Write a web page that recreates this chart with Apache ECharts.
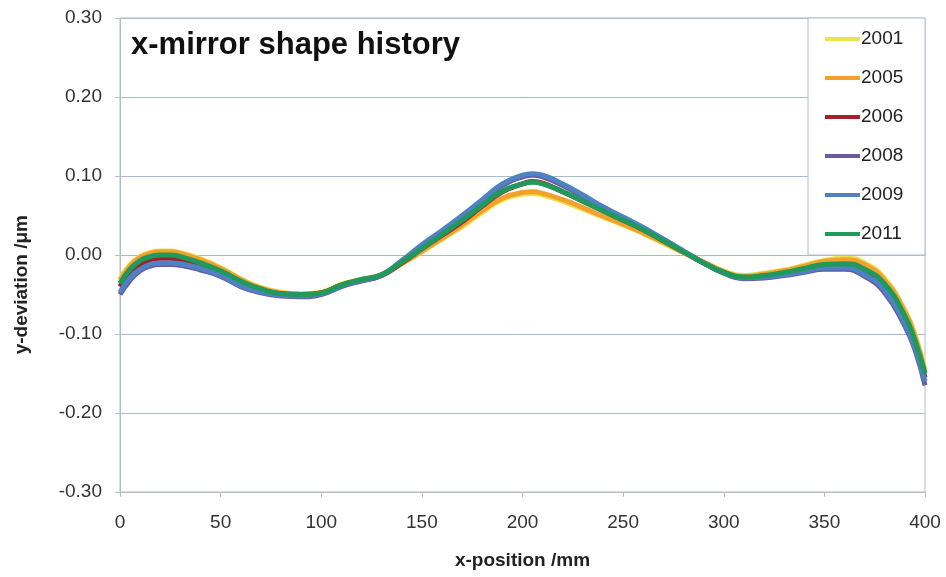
<!DOCTYPE html>
<html><head><meta charset="utf-8">
<script src="https://cdn.jsdelivr.net/npm/echarts@6/dist/echarts.min.js"></script>
<style>html,body{margin:0;padding:0;background:#fff}#c{width:946px;height:577px}</style>
</head><body><div id="c"></div>
<script>
const xPos = [0,5,10,15,20,25,30,40,50,60,70,80,90,100,110,120,130,140,150,160,170,180,190,200,205,210,220,230,240,250,260,270,280,290,300,310,320,330,340,350,360,370,380,390,395,400];
const years = ['2001','2005','2006','2008','2009','2011'];
const colors = ['#ede34a','#f2a12e','#a3202a','#6a5a9e','#4f82c2','#1f9a5c'];
const y2001 = [-0.030,-0.012,-0.002,0.003,0.005,0.005,0.003,-0.005,-0.016,-0.030,-0.041,-0.047,-0.049,-0.047,-0.037,-0.031,-0.025,-0.011,0.004,0.020,0.036,0.054,0.070,0.077,0.078,0.076,0.068,0.058,0.048,0.038,0.027,0.015,0.003,-0.009,-0.020,-0.026,-0.023,-0.019,-0.013,-0.007,-0.004,-0.010,-0.030,-0.070,-0.100,-0.145];
const y2005 = [-0.032,-0.014,-0.003,0.002,0.004,0.004,0.002,-0.006,-0.017,-0.031,-0.042,-0.048,-0.050,-0.048,-0.038,-0.031,-0.025,-0.011,0.005,0.021,0.038,0.056,0.072,0.079,0.080,0.078,0.070,0.060,0.049,0.039,0.028,0.016,0.003,-0.009,-0.021,-0.027,-0.024,-0.020,-0.014,-0.008,-0.006,-0.012,-0.032,-0.072,-0.103,-0.148];
const y2006 = [-0.040,-0.022,-0.012,-0.006,-0.004,-0.004,-0.006,-0.013,-0.022,-0.035,-0.044,-0.049,-0.050,-0.048,-0.038,-0.032,-0.026,-0.010,0.008,0.025,0.042,0.062,0.080,0.090,0.093,0.091,0.080,0.068,0.056,0.044,0.032,0.018,0.004,-0.010,-0.022,-0.029,-0.027,-0.023,-0.018,-0.013,-0.012,-0.020,-0.040,-0.080,-0.110,-0.155];
const y2008 = [-0.050,-0.032,-0.020,-0.014,-0.012,-0.012,-0.013,-0.019,-0.027,-0.040,-0.048,-0.052,-0.053,-0.050,-0.040,-0.033,-0.026,-0.008,0.012,0.030,0.048,0.068,0.088,0.099,0.101,0.099,0.088,0.074,0.060,0.047,0.034,0.020,0.005,-0.010,-0.023,-0.030,-0.029,-0.026,-0.022,-0.018,-0.018,-0.027,-0.048,-0.090,-0.120,-0.165];
const y2009 = [-0.047,-0.029,-0.018,-0.012,-0.010,-0.010,-0.011,-0.017,-0.026,-0.039,-0.047,-0.051,-0.052,-0.049,-0.039,-0.032,-0.025,-0.007,0.013,0.031,0.050,0.070,0.090,0.101,0.103,0.101,0.090,0.076,0.061,0.048,0.035,0.020,0.005,-0.010,-0.022,-0.029,-0.028,-0.025,-0.021,-0.016,-0.016,-0.025,-0.045,-0.087,-0.117,-0.160];
const y2011 = [-0.036,-0.018,-0.007,-0.002,0.000,0.000,-0.002,-0.010,-0.020,-0.033,-0.043,-0.049,-0.050,-0.048,-0.038,-0.031,-0.025,-0.009,0.008,0.026,0.044,0.063,0.081,0.090,0.092,0.090,0.080,0.068,0.056,0.044,0.032,0.018,0.004,-0.010,-0.022,-0.028,-0.026,-0.022,-0.017,-0.012,-0.011,-0.018,-0.037,-0.077,-0.108,-0.150];
const allY = [y2001,y2005,y2006,y2008,y2009,y2011];

const font = 'Liberation Sans, Arial, sans-serif';
const chart = echarts.init(document.getElementById('c'));
chart.setOption({
  backgroundColor:'#fff',
  animation:false,
  title:{text:'x-mirror shape history',left:126,top:25,textStyle:{fontFamily:font,fontSize:31,fontWeight:'bold',color:'#111'}},
  graphic:[{type:'text',left:12,top:215,rotation:Math.PI/2,
    style:{text:'y-deviation /μm',fontFamily:font,fontSize:19,fontWeight:'bold',fill:'#222'}}],
  grid:{left:120,right:21,top:18,bottom:85,show:true,borderColor:'#b4bcc6',borderWidth:1},
  legend:{orient:'vertical',right:21,top:18,data:years,icon:'rect',itemWidth:35,itemHeight:4,itemGap:19,
    padding:[11,14,11,17],backgroundColor:'#fff',borderColor:'#b4bcc6',borderWidth:1,
    textStyle:{fontFamily:font,fontSize:19,color:'#222',padding:[0,0,0,-4],lineHeight:20,width:50}},
  xAxis:{type:'value',min:0,max:400,interval:50,
    name:'x-position /mm',nameLocation:'middle',nameGap:59,nameTextStyle:{fontFamily:font,fontSize:19,fontWeight:'bold',color:'#222'},
    axisLine:{onZero:false,lineStyle:{color:'#b4bcc6'}},axisTick:{show:true,length:5,lineStyle:{color:'#b4bcc6'}},
    axisLabel:{fontFamily:font,fontSize:19,color:'#333',margin:21},splitLine:{show:false}},
  yAxis:{type:'value',min:-0.3,max:0.3,interval:0.1,
    axisLine:{show:true,lineStyle:{color:'#b4bcc6'}},axisTick:{show:true,length:5,lineStyle:{color:'#b4bcc6'}},
    axisLabel:{fontFamily:font,fontSize:19,color:'#333',margin:18,formatter:v=>v.toFixed(2)},
    splitLine:{show:true,lineStyle:{color:'#a9bccd',width:1}}},
  series: years.map((y,i)=>({name:y,type:'line',smooth:true,symbol:'none',
    data:xPos.map((x,j)=>[x,allY[i][j]]),
    lineStyle:{color:colors[i],width:5},itemStyle:{color:colors[i]},z:2+i}))
});
</script></body></html>
